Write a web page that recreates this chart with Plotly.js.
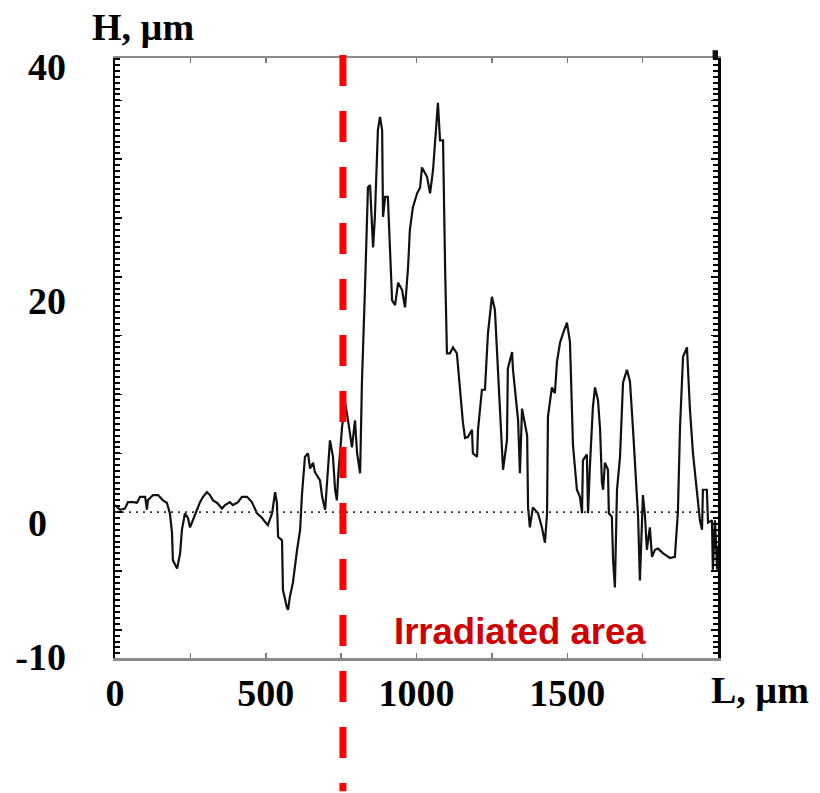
<!DOCTYPE html>
<html>
<head>
<meta charset="utf-8">
<script src="https://cdn.plot.ly/plotly-3.0.1.min.js"></script>
<style>html,body{margin:0;padding:0;background:#fff;}#chart{width:820px;height:793px;}</style>
</head>
<body>
<div id="chart"></div>
<script>
// Profile data: position L (µm) and height H (µm)
const L_um = [0,17,33,43,60,73,83,100,106,109,126,143,159,172,182,189,192,206,216,222,232,242,249,259,272,282,292,305,315,325,338,355,365,381,391,408,421,438,454,471,488,498,507,521,531,537,541,554,557,570,574,580,590,604,614,620,630,640,647,657,663,680,687,697,703,706,713,723,730,736,740,753,763,773,786,796,803,813,819,829,839,846,852,856,862,872,879,886,889,896,905,912,919,929,939,952,962,972,978,988,1002,1012,1018,1035,1045,1055,1068,1071,1078,1088,1095,1101,1111,1121,1134,1144,1154,1161,1171,1184,1187,1201,1204,1217,1227,1237,1250,1260,1270,1284,1287,1300,1303,1317,1320,1337,1343,1350,1367,1370,1376,1386,1403,1416,1426,1433,1436,1449,1459,1466,1476,1486,1499,1509,1519,1532,1542,1549,1552,1565,1569,1575,1585,1592,1602,1609,1615,1619,1625,1635,1638,1648,1652,1658,1665,1675,1685,1698,1708,1718,1731,1735,1741,1748,1751,1758,1764,1774,1781,1791,1801,1818,1841,1857,1867,1874,1884,1897,1907,1917,1930,1940,1947,1950,1963,1967,1980,1983,1990,1997,2000];
const H_um = [0.6,0.2,0.3,0.85,0.85,0.8,1.3,1.3,0.2,1.0,1.45,1.45,1.0,0.8,-0.1,-1.7,-4.1,-4.8,-3.5,-1.5,-0.1,-0.5,-1.3,-0.7,0.2,0.85,1.3,1.7,1.45,1.0,0.8,0.3,0.6,0.85,0.6,0.85,1.3,1.3,0.85,-0.1,-0.5,-0.85,-1.1,-0.1,1.7,0.8,-2.1,-2.4,-6.6,-8.1,-8.3,-7.2,-6.0,-3.2,-1.5,1.45,4.7,5.0,3.7,4.2,3.4,2.7,1.3,0.2,2.4,3.6,6.1,4.7,1.9,1.0,3.0,7.2,9.3,7.8,5.5,7.8,5.0,3.3,11.0,18.9,27.6,27.8,25.0,22.5,25.1,32.5,33.6,32.5,25.1,26.8,26.8,22.0,18.0,17.6,19.5,18.9,17.4,20.8,24.0,25.9,27.1,27.6,29.3,28.5,27.1,29.1,34.2,34.8,31.6,31.6,20.6,13.5,13.5,14.0,13.5,10.4,7.6,6.3,6.4,7.0,5.0,4.7,7.0,10.4,10.4,15.2,18.3,17.2,12.2,5.1,3.6,6.1,12.2,13.6,12.1,7.8,3.3,8.8,6.5,0.4,-1.3,0.4,-0.1,-1.3,-2.6,-0.1,8.1,10.6,10.1,12.8,14.4,15.2,16.1,14.5,5.7,1.9,1.3,-0.1,4.4,4.9,-0.1,3.8,8.9,10.6,9.5,7.0,2.5,1.9,4.2,3.6,-0.1,-0.4,-4.1,-6.4,1.9,4.7,11.0,12.1,11.1,7.1,0.85,-0.4,-5.8,-0.4,1.45,-0.4,-3.2,-1.3,-3.8,-3.2,-3.1,-3.5,-3.9,-3.8,0,7.2,13.2,14.0,8.7,5.0,1.6,-0.7,-1.5,1.9,1.9,-0.9,-0.7,-4.9,-0.7,-4.9,-3.0];

// Axis tick labels
const xTickLabels = ['0','','500','','1000','','1500','',''];
const xTickValues = [0,250,500,750,1000,1250,1500,1750,2000];
const yTickLabels = ['40','20','0\u00A0\u00A0','-10'];
const yTickLabelPos = [37.9,18.0,-0.9,-12.3];

const boundaryL = 756;           // position of the irradiation boundary (µm)
const regionLabel = 'Irradiated area';
const yTitle = 'H, µm';
const xTitle = 'L, µm';

const serif = 'Liberation Serif, Times New Roman, serif';
const sans = 'Liberation Sans, Arial, sans-serif';
const yRange = [-12.4, 38.6];

const trace = {
  x: L_um, y: H_um, type: 'scatter', mode: 'lines',
  line: {color: '#111111', width: 2.2},
  hoverinfo: 'skip', showlegend: false
};
const dummy = ax => ({
  x: [0], y: [0], xaxis: 'x', yaxis: ax, type: 'scatter', mode: 'markers',
  marker: {opacity: 0}, hoverinfo: 'skip', showlegend: false
});

const layout = {
  width: 820, height: 793,
  margin: {l: 115, r: 102, t: 58, b: 135},
  paper_bgcolor: '#ffffff', plot_bgcolor: '#ffffff',
  showlegend: false,
  xaxis: {
    range: [0, 2000], tickmode: 'array', tickvals: xTickValues, ticktext: xTickLabels,
    ticks: 'inside', ticklen: 5, tickwidth: 1.5, tickcolor: '#7a7a7a',
    showline: true, linecolor: '#8a8a8a', linewidth: 2.5, mirror: 'ticks',
    showgrid: false, zeroline: false,
    tickfont: {family: serif, size: 38, color: '#000'},
    ticklabelstandoff: 0
  },
  yaxis: {
    range: yRange, tickmode: 'linear', tick0: 0, dtick: 5,
    ticks: 'inside', ticklen: 7, tickwidth: 1.5, tickcolor: '#000',
    showline: true, linecolor: '#000', linewidth: 2.5, mirror: 'ticks',
    showticklabels: false, showgrid: false, zeroline: false
  },
  yaxis2: {
    overlaying: 'y', side: 'left', range: yRange,
    tickmode: 'array', tickvals: yTickLabelPos, ticktext: yTickLabels,
    ticks: '', showline: false, showgrid: false, zeroline: false,
    tickfont: {family: serif, size: 38, color: '#000'},
    ticklabelstandoff: 48
  },
  yaxis3: {
    overlaying: 'y', side: 'right', range: yRange,
    tickmode: 'linear', tick0: 0, dtick: 0.5,
    ticks: 'inside', ticklen: 5, tickwidth: 2, tickcolor: '#000',
    showline: true, linecolor: '#000', linewidth: 2.5, mirror: 'ticks', showticklabels: false,
    showgrid: false, zeroline: false
  },
  shapes: [
    {type: 'line', xref: 'paper', yref: 'y', x0: 0, x1: 1, y0: 0, y1: 0,
     line: {color: '#333', width: 1.6, dash: '2px,5px'}},
    {type: 'line', xref: 'x', yref: 'paper', x0: boundaryL, x1: boundaryL, y0: 1.005, y1: -0.222,
     line: {color: '#ff0000', width: 7, dash: '31px,25px'}},
    {type: 'rect', xref: 'paper', yref: 'paper', x0: 0.991, x1: 1.0, y0: 0.999, y1: 1.013,
     fillcolor: '#111', line: {width: 0}}
  ],
  annotations: [
    {text: '<b>' + yTitle + '</b>', xref: 'paper', yref: 'paper', x: 0.046, y: 1.052,
     xanchor: 'center', yanchor: 'middle', showarrow: false,
     font: {family: serif, size: 38, color: '#000'}},
    {text: '<b>' + xTitle + '</b>', xref: 'paper', yref: 'paper', x: 1.07, y: -0.053,
     xanchor: 'center', yanchor: 'middle', showarrow: false,
     font: {family: serif, size: 38, color: '#000'}},
    {text: '<b>' + regionLabel + '</b>', xref: 'paper', yref: 'paper', x: 0.671, y: 0.045,
     xanchor: 'center', yanchor: 'middle', showarrow: false,
     font: {family: sans, size: 36.5, color: '#d00000'}}
  ]
};

Plotly.newPlot('chart', [trace, dummy('y2'), dummy('y3')], layout, {displayModeBar: false, staticPlot: true});
// make tick labels bold
document.querySelectorAll('.xtick text, .y2tick text').forEach(t => t.style.fontWeight = 'bold');
</script>
</body>
</html>
